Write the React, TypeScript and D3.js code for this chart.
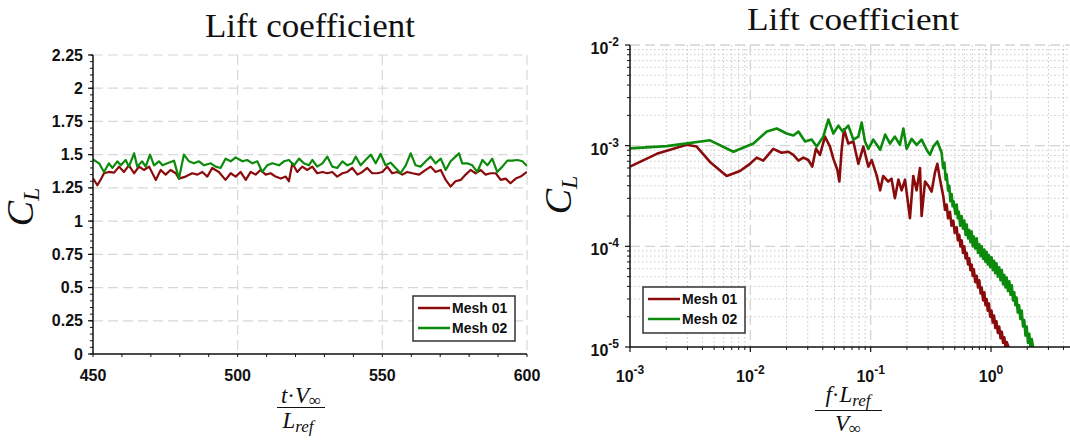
import React from 'react';
import * as d3 from 'd3';

// ---------- Data: left panel (time history of lift coefficient) ----------
const timeMesh01 = [450, 451.5, 452.6, 453.8, 455.5, 457.3, 459.0, 460.7, 462.4, 464.2, 465.9, 467.6, 469.4, 471.7, 473.4, 475.1, 476.8, 478.6, 479.7, 482.0, 484.3, 486.1, 487.8, 489.5, 491.2, 493.5, 495.8, 497.6, 499.3, 501.0, 502.8, 504.5, 506.2, 507.9, 509.7, 511.4, 513.1, 514.9, 516.6, 517.7, 518.9, 520.6, 522.3, 524.1, 525.8, 527.5, 529.3, 531.0, 532.7, 534.4, 536.2, 537.9, 539.6, 541.4, 543.1, 544.8, 546.5, 548.3, 550.0, 551.7, 553.4, 555.2, 556.9, 558.6, 560.4, 562.7, 565.0, 566.7, 568.4, 570.2, 571.9, 573.6, 575.3, 577.1, 578.8, 580.5, 582.2, 584.0, 585.7, 587.4, 589.2, 590.9, 592.6, 594.3, 596.1, 597.8, 600];
const clMesh01 = [1.3225, 1.27, 1.31, 1.36, 1.37, 1.365, 1.41, 1.37, 1.42, 1.36, 1.41, 1.385, 1.41, 1.31, 1.385, 1.35, 1.385, 1.36, 1.32, 1.335, 1.36, 1.35, 1.37, 1.335, 1.40, 1.37, 1.31, 1.36, 1.335, 1.37, 1.31, 1.37, 1.35, 1.385, 1.35, 1.36, 1.335, 1.32, 1.335, 1.30, 1.435, 1.37, 1.41, 1.385, 1.41, 1.36, 1.37, 1.36, 1.37, 1.335, 1.36, 1.37, 1.40, 1.35, 1.37, 1.40, 1.36, 1.36, 1.37, 1.41, 1.36, 1.37, 1.35, 1.37, 1.36, 1.35, 1.385, 1.41, 1.37, 1.385, 1.31, 1.26, 1.30, 1.31, 1.35, 1.385, 1.36, 1.385, 1.35, 1.36, 1.36, 1.31, 1.32, 1.285, 1.32, 1.335, 1.37];
const timeMesh02 = [450, 452.1, 453.8, 455.5, 456.7, 458.4, 459.6, 461.3, 462.4, 464.2, 465.3, 467.0, 468.2, 469.7, 471.1, 472.8, 474.0, 475.7, 478.0, 479.7, 481.4, 483.2, 484.9, 486.6, 488.4, 490.7, 492.4, 494.1, 495.8, 497.6, 499.3, 501.6, 503.3, 505.1, 506.8, 508.5, 510.2, 512.0, 514.3, 516.0, 517.7, 519.5, 521.2, 522.9, 524.6, 525.8, 527.5, 529.3, 531.0, 532.7, 534.4, 536.2, 537.9, 539.6, 540.8, 542.5, 544.2, 546.0, 547.7, 549.4, 551.1, 552.9, 554.6, 556.3, 558.1, 559.8, 561.5, 563.2, 565.0, 566.7, 568.4, 570.2, 571.9, 573.6, 575.3, 576.5, 577.6, 579.4, 581.1, 582.8, 584.6, 586.3, 588.0, 589.7, 591.5, 593.2, 594.9, 596.7, 598.4, 600];
const clMesh02 = [1.465, 1.435, 1.37, 1.435, 1.40, 1.45, 1.42, 1.46, 1.41, 1.51, 1.41, 1.45, 1.41, 1.50, 1.42, 1.45, 1.42, 1.435, 1.455, 1.32, 1.50, 1.45, 1.435, 1.45, 1.42, 1.435, 1.41, 1.40, 1.47, 1.45, 1.48, 1.45, 1.46, 1.435, 1.45, 1.37, 1.42, 1.435, 1.42, 1.45, 1.46, 1.42, 1.47, 1.435, 1.42, 1.46, 1.41, 1.435, 1.485, 1.41, 1.40, 1.45, 1.42, 1.435, 1.485, 1.42, 1.46, 1.50, 1.435, 1.505, 1.42, 1.44, 1.40, 1.36, 1.42, 1.51, 1.42, 1.41, 1.45, 1.485, 1.435, 1.47, 1.385, 1.45, 1.485, 1.51, 1.435, 1.435, 1.42, 1.37, 1.46, 1.42, 1.47, 1.37, 1.41, 1.455, 1.455, 1.46, 1.45, 1.415];

// ---------- Data: right panel (spectrum) ----------
const freqMesh01 = [0.001, 0.00167, 0.00296, 0.00358, 0.00462, 0.00636, 0.0082, 0.00993, 0.0113, 0.0128, 0.0155, 0.0182, 0.0207, 0.0228, 0.0251, 0.0276, 0.0303, 0.0327, 0.0351, 0.0379, 0.0417, 0.0459, 0.0490, 0.0528, 0.0549, 0.0574, 0.0600, 0.0652, 0.0718, 0.0790, 0.0869, 0.0957, 0.102, 0.112, 0.120, 0.127, 0.140, 0.149, 0.159, 0.170, 0.181, 0.193, 0.212, 0.226, 0.241, 0.257, 0.265, 0.283, 0.301, 0.321, 0.342, 0.358, 0.377, 0.402, 0.415, 0.428, 0.44, 0.456, 0.47, 0.486, 0.50, 0.519, 0.53, 0.545, 0.557, 0.570, 0.585, 0.60, 0.615, 0.628, 0.645, 0.66, 0.675, 0.691, 0.705, 0.72, 0.74, 0.760, 0.78, 0.80, 0.82, 0.836, 0.86, 0.88, 0.90, 0.920, 0.94, 0.96, 0.985, 1.01, 1.035, 1.06, 1.085, 1.11, 1.14, 1.17, 1.20, 1.23, 1.26, 1.29, 1.32, 1.35, 1.42, 1.49];
const psdMesh01 = [6.2e-4, 8.3e-4, 1.02e-3, 9.8e-4, 6.9e-4, 5.0e-4, 5.6e-4, 6.6e-4, 7.6e-4, 7.1e-4, 9.3e-4, 8.5e-4, 8.7e-4, 8.1e-4, 7.1e-4, 7.6e-4, 7.2e-4, 6.2e-4, 9.3e-4, 8.1e-4, 1.23e-3, 9.8e-4, 7.4e-4, 5.8e-4, 4.4e-4, 9.1e-4, 1.45e-3, 1.05e-3, 1.10e-3, 6.6e-4, 9.8e-4, 6.2e-4, 7.2e-4, 5.1e-4, 3.6e-4, 5.0e-4, 4.4e-4, 4.7e-4, 3.0e-4, 4.6e-4, 3.6e-4, 4.6e-4, 1.9e-4, 5.0e-4, 3.6e-4, 6.0e-4, 2.0e-4, 4.4e-4, 4.0e-4, 3.5e-4, 5.4e-4, 6.6e-4, 4.6e-4, 3.1e-4, 2.3e-4, 2.6e-4, 1.9e-4, 2.2e-4, 1.6e-4, 1.8e-4, 1.35e-4, 1.55e-4, 1.15e-4, 1.3e-4, 1.0e-4, 1.15e-4, 8.6e-5, 1.0e-4, 7.6e-5, 8.6e-5, 6.6e-5, 7.6e-5, 5.8e-5, 6.6e-5, 5.1e-5, 5.9e-5, 4.4e-5, 5.1e-5, 3.9e-5, 4.6e-5, 3.4e-5, 3.9e-5, 2.9e-5, 3.5e-5, 2.6e-5, 3.0e-5, 2.3e-5, 2.7e-5, 2.0e-5, 2.3e-5, 1.75e-5, 2.05e-5, 1.55e-5, 1.8e-5, 1.38e-5, 1.6e-5, 1.22e-5, 1.42e-5, 1.1e-5, 1.25e-5, 1.0e-5, 1.12e-5, 0.95e-5, 0.9e-5];
const freqMesh02 = [0.001, 0.00202, 0.00462, 0.00723, 0.0106, 0.0137, 0.0166, 0.0200, 0.0228, 0.0251, 0.0285, 0.0323, 0.0356, 0.0404, 0.0445, 0.0490, 0.0539, 0.0585, 0.0652, 0.0718, 0.0790, 0.0842, 0.0897, 0.0957, 0.105, 0.120, 0.132, 0.145, 0.159, 0.175, 0.187, 0.199, 0.219, 0.241, 0.265, 0.292, 0.311, 0.332, 0.358, 0.389, 0.40, 0.41, 0.42, 0.428, 0.44, 0.45, 0.46, 0.471, 0.48, 0.49, 0.505, 0.519, 0.53, 0.54, 0.555, 0.570, 0.585, 0.60, 0.615, 0.628, 0.645, 0.66, 0.675, 0.691, 0.705, 0.72, 0.74, 0.760, 0.78, 0.80, 0.82, 0.836, 0.86, 0.88, 0.90, 0.920, 0.94, 0.96, 0.985, 1.01, 1.035, 1.06, 1.085, 1.11, 1.14, 1.17, 1.20, 1.23, 1.26, 1.29, 1.32, 1.35, 1.385, 1.42, 1.455, 1.49, 1.525, 1.56, 1.595, 1.63, 1.67, 1.71, 1.755, 1.80, 1.845, 1.89, 1.935, 1.98, 2.03, 2.08, 2.13, 2.18, 2.25, 2.32];
const psdMesh02 = [9.4e-4, 9.9e-4, 1.13e-3, 8.7e-4, 1.05e-3, 1.38e-3, 1.48e-3, 1.32e-3, 1.26e-3, 1.38e-3, 1.10e-3, 1.15e-3, 9.8e-4, 1.23e-3, 1.82e-3, 1.32e-3, 1.58e-3, 1.38e-3, 1.58e-3, 1.15e-3, 1.23e-3, 1.70e-3, 1.10e-3, 9.3e-4, 1.15e-3, 9.1e-4, 1.29e-3, 1.05e-3, 1.23e-3, 1.02e-3, 1.48e-3, 9.3e-4, 1.17e-3, 1.02e-3, 1.15e-3, 9.1e-4, 8.1e-4, 9.8e-4, 1.10e-3, 8.5e-4, 6.0e-4, 6.8e-4, 4.6e-4, 5.2e-4, 3.6e-4, 4.0e-4, 2.8e-4, 3.3e-4, 2.5e-4, 2.8e-4, 2.1e-4, 2.6e-4, 1.9e-4, 2.2e-4, 1.6e-4, 2.0e-4, 1.5e-4, 1.8e-4, 1.3e-4, 1.65e-4, 1.2e-4, 1.45e-4, 1.1e-4, 1.4e-4, 1.0e-4, 1.25e-4, 9.5e-5, 1.2e-4, 8.6e-5, 1.05e-4, 8.0e-5, 1.0e-4, 7.5e-5, 9.3e-5, 7.0e-5, 8.8e-5, 6.6e-5, 8.2e-5, 6.2e-5, 7.8e-5, 5.8e-5, 7.2e-5, 5.4e-5, 6.8e-5, 5.0e-5, 6.2e-5, 4.6e-5, 5.8e-5, 4.2e-5, 5.2e-5, 3.9e-5, 4.9e-5, 3.6e-5, 4.5e-5, 3.3e-5, 4.1e-5, 2.9e-5, 3.5e-5, 2.6e-5, 3.1e-5, 2.2e-5, 2.6e-5, 1.9e-5, 2.3e-5, 1.6e-5, 1.85e-5, 1.3e-5, 1.6e-5, 1.1e-5, 1.35e-5, 1.0e-5, 1.2e-5, 0.95e-5, 0.9e-5];

// ---------- Ticks / labels ----------
const leftYTicks = [0, 0.25, 0.5, 0.75, 1, 1.25, 1.5, 1.75, 2, 2.25];
const leftXTicks = [450, 500, 550, 600];
const rightXTickExps = [-3, -2, -1, 0];
const rightYTickExps = [-2, -3, -4, -5];
const seriesNames = ['Mesh 01', 'Mesh 02'];
const seriesColors = ['#8a0b0b', '#0b8a0b'];
const titleText = 'Lift coefficient';

const W = 1070;
const H = 441;
const tickFont = "'Liberation Sans', Arial, sans-serif";
const serif = "'Liberation Serif', 'DejaVu Serif', serif";

export default function App() {
  // Left scales
  const lx = d3.scaleLinear().domain([450, 600]).range([93, 527]);
  const ly = d3.scaleLinear().domain([0, 2.25]).range([354, 55]);
  // Right scales
  const rx = d3.scaleLog().domain([1e-3, 1]).range([630, 991]);
  const ry = d3.scaleLog().domain([1e-5, 1e-2]).range([347, 45]);
  const rRight = W;

  const lLine = d3.line<[number, number]>().x(d => lx(d[0])).y(d => ly(d[1]));
  const rLine = d3.line<[number, number]>().x(d => rx(d[0])).y(d => ry(d[1]));

  const leftSeries = [
    d3.zip(timeMesh01, clMesh01) as [number, number][],
    d3.zip(timeMesh02, clMesh02) as [number, number][],
  ];
  const rightSeries = [
    d3.zip(freqMesh01, psdMesh01) as [number, number][],
    d3.zip(freqMesh02, psdMesh02) as [number, number][],
  ];

  // minor ticks
  const leftYMinor = d3.range(0, 2.2501, 0.05);
  const leftXMinor = d3.range(450, 600.01, 10);
  const decades = [1e-5, 1e-4, 1e-3, 1e-2];
  const rightYMinor: number[] = [];
  decades.slice(0, 3).forEach(d => { for (let k = 2; k <= 9; k++) rightYMinor.push(d * k); });
  const xDecades = [1e-3, 1e-2, 1e-1, 1];
  const rightXMinor: number[] = [];
  xDecades.forEach(d => { for (let k = 2; k <= 9; k++) { const v = d * k; if (rx(v) <= rRight) rightXMinor.push(v); } });

  const legend = (x: number, y: number, w: number, h: number, lineX: number, key: string) => (
    <g key={key}>
      <rect x={x} y={y} width={w} height={h} fill="#fff" stroke="#333" strokeWidth={1.5} />
      {seriesNames.map((n, i) => (
        <g key={n}>
          <line x1={lineX} x2={lineX + 32} y1={y + 12 + i * 20} y2={y + 12 + i * 20} stroke={seriesColors[i]} strokeWidth={2.5} />
          <text x={lineX + 34} y={y + 17 + i * 20} fontFamily={tickFont} fontWeight="bold" fontSize={14} fill="#111">{n}</text>
        </g>
      ))}
    </g>
  );

  return (
    <div style={{ position: 'fixed', left: 0, top: 0, width: W, height: H, background: '#fff' }}>
      <svg width={W} height={H} viewBox={`0 0 ${W} ${H}`} style={{ display: 'block' }}>
        <defs>
          <clipPath id="clipL"><rect x={93} y={55} width={434} height={299} /></clipPath>
          <clipPath id="clipR"><rect x={630} y={45} width={rRight - 630} height={302} /></clipPath>
        </defs>
        <rect x={0} y={0} width={W} height={H} fill="#fff" />

        {/* ================= LEFT PANEL ================= */}
        <text x={310} y={37} textAnchor="middle" fontFamily={serif} fontSize={34} textLength={210} lengthAdjust="spacingAndGlyphs" fill="#111">{titleText}</text>
        {/* grid */}
        {leftYTicks.filter(v => v > 0).map(v => (
          <line key={'lgy' + v} x1={93} x2={527} y1={ly(v)} y2={ly(v)} stroke="#d8d8d8" strokeWidth={1.2} strokeDasharray="10,5" />
        ))}
        {leftXTicks.filter(v => v > 450).map(v => (
          <line key={'lgx' + v} x1={lx(v)} x2={lx(v)} y1={55} y2={354} stroke="#d8d8d8" strokeWidth={1.2} strokeDasharray="10,5" />
        ))}
        {/* lines */}
        <g clipPath="url(#clipL)">
          {leftSeries.map((s, i) => (
            <path key={'ls' + i} d={lLine(s) || ''} fill="none" stroke={seriesColors[i]} strokeWidth={2.2} strokeLinejoin="round" />
          ))}
        </g>
        {/* axes */}
        <line x1={93} x2={93} y1={55} y2={354} stroke="#111" strokeWidth={1.5} />
        <line x1={93} x2={527} y1={354} y2={354} stroke="#111" strokeWidth={1.5} />
        {leftYMinor.map(v => (
          <line key={'lym' + v} x1={90} x2={93} y1={ly(v)} y2={ly(v)} stroke="#111" strokeWidth={1} />
        ))}
        {leftYTicks.map(v => (
          <g key={'lyt' + v}>
            <line x1={88} x2={93} y1={ly(v)} y2={ly(v)} stroke="#111" strokeWidth={1.2} />
            <text x={83} y={ly(v) + 5.5} textAnchor="end" fontFamily={tickFont} fontWeight="bold" fontSize={16} fill="#111">{String(v)}</text>
          </g>
        ))}
        {leftXMinor.map(v => (
          <line key={'lxm' + v} x1={lx(v)} x2={lx(v)} y1={354} y2={357} stroke="#111" strokeWidth={1} />
        ))}
        {leftXTicks.map(v => (
          <text key={'lxt' + v} x={lx(v)} y={381} textAnchor="middle" fontFamily={tickFont} fontWeight="bold" fontSize={16} fill="#111">{String(v)}</text>
        ))}
        {/* axis labels */}
        <text transform="translate(33,207) rotate(-90)" textAnchor="middle" fontFamily={serif} fontStyle="italic" fontSize={38} fill="#111">
          C<tspan fontSize={24} dy={6}>L</tspan>
        </text>
        <text x={301} y={403} textAnchor="middle" fontFamily={serif} fontSize={23} fill="#111">
          <tspan fontStyle="italic">t</tspan><tspan>·</tspan><tspan fontStyle="italic">V</tspan><tspan fontSize={17} dy={3}>∞</tspan>
        </text>
        <line x1={277} x2={325} y1={407.5} y2={407.5} stroke="#111" strokeWidth={1} />
        <text x={298} y={428} textAnchor="middle" fontFamily={serif} fontSize={23} fill="#111">
          <tspan fontStyle="italic">L</tspan><tspan fontStyle="italic" fontSize={17} dy={4}>ref</tspan>
        </text>
        {legend(413, 296, 102, 45, 418, 'legL')}

        {/* ================= RIGHT PANEL ================= */}
        <text x={853} y={30} textAnchor="middle" fontFamily={serif} fontSize={32} textLength={212} lengthAdjust="spacingAndGlyphs" fill="#111">{titleText}</text>
        {/* minor grid */}
        {rightYMinor.map(v => (
          <line key={'rgym' + v} x1={630} x2={rRight} y1={ry(v)} y2={ry(v)} stroke="#c8c8c8" strokeWidth={1} strokeDasharray="1.5,2.5" />
        ))}
        {rightXMinor.map(v => (
          <line key={'rgxm' + v} x1={rx(v)} x2={rx(v)} y1={45} y2={347} stroke="#c8c8c8" strokeWidth={1} strokeDasharray="1.5,2.5" />
        ))}
        {/* major grid */}
        {[1e-4, 1e-3, 1e-2].map(v => (
          <line key={'rgy' + v} x1={630} x2={rRight} y1={ry(v)} y2={ry(v)} stroke="#d4d4d4" strokeWidth={1.3} strokeDasharray="10,5" />
        ))}
        {[1e-2, 1e-1, 1].map(v => (
          <line key={'rgx' + v} x1={rx(v)} x2={rx(v)} y1={45} y2={347} stroke="#d4d4d4" strokeWidth={1.3} strokeDasharray="10,5" />
        ))}
        <g clipPath="url(#clipR)">
          {rightSeries.map((s, i) => (
            <path key={'rs' + i} d={rLine(s) || ''} fill="none" stroke={seriesColors[i]} strokeWidth={2.6} strokeLinejoin="round" />
          ))}
        </g>
        {/* axes */}
        <line x1={630} x2={630} y1={45} y2={347} stroke="#111" strokeWidth={1.5} />
        <line x1={630} x2={rRight} y1={347} y2={347} stroke="#111" strokeWidth={1.5} />
        {rightYMinor.map(v => (
          <line key={'rym' + v} x1={627} x2={630} y1={ry(v)} y2={ry(v)} stroke="#111" strokeWidth={1} />
        ))}
        {rightXMinor.map(v => (
          <line key={'rxm' + v} x1={rx(v)} x2={rx(v)} y1={347} y2={350} stroke="#111" strokeWidth={1} />
        ))}
        {rightYTickExps.map(e => (
          <g key={'ryt' + e}>
            <line x1={625} x2={630} y1={ry(Math.pow(10, e))} y2={ry(Math.pow(10, e))} stroke="#111" strokeWidth={1.2} />
            <text x={619} y={ry(Math.pow(10, e)) + 9} textAnchor="end" fontFamily={tickFont} fontWeight="bold" fontSize={16} fill="#111">
              10<tspan fontSize={12} dy={-8}>{String(e)}</tspan>
            </text>
          </g>
        ))}
        {rightXTickExps.map(e => (
          <g key={'rxt' + e}>
            <line x1={rx(Math.pow(10, e))} x2={rx(Math.pow(10, e))} y1={347} y2={352} stroke="#111" strokeWidth={1.2} />
            <text x={rx(Math.pow(10, e))} y={382} textAnchor="middle" fontFamily={tickFont} fontWeight="bold" fontSize={16} fill="#111">
              10<tspan fontSize={12} dy={-8}>{String(e)}</tspan>
            </text>
          </g>
        ))}
        {/* axis labels */}
        <text transform="translate(571,195) rotate(-90)" textAnchor="middle" fontFamily={serif} fontStyle="italic" fontSize={38} fill="#111">
          C<tspan fontSize={24} dy={6}>L</tspan>
        </text>
        <text x={848} y={402} textAnchor="middle" fontFamily={serif} fontSize={23} fill="#111">
          <tspan fontStyle="italic">f</tspan><tspan>·</tspan><tspan fontStyle="italic">L</tspan><tspan fontStyle="italic" fontSize={17} dy={4}>ref</tspan>
        </text>
        <line x1={815} x2={882} y1={410.5} y2={410.5} stroke="#111" strokeWidth={1} />
        <text x={848} y={431} textAnchor="middle" fontFamily={serif} fontSize={23} fill="#111">
          <tspan fontStyle="italic">V</tspan><tspan fontSize={17} dy={3}>∞</tspan>
        </text>
        {legend(643, 287, 102, 46, 648, 'legR')}
      </svg>
    </div>
  );
}
